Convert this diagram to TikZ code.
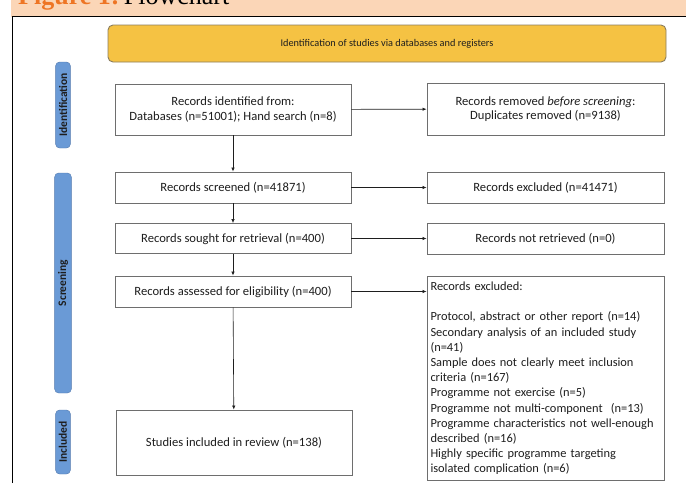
\documentclass[tikz,border=0pt]{standalone}
\usepackage{fontspec}
\setmainfont{Carlito}
\newfontfamily\capfont{Liberation Serif}
\usetikzlibrary{arrows.meta,positioning}
\definecolor{peach}{HTML}{FBD6B7}
\definecolor{figorange}{HTML}{EE7524}
\definecolor{headyellow}{HTML}{F5C243}
\definecolor{headedge}{HTML}{8A7D5E}
\definecolor{phaseblue}{HTML}{6A9AD6}
\definecolor{phaseedge}{HTML}{5279AE}
\definecolor{boxedge}{HTML}{6E6E6E}
\definecolor{ink}{HTML}{1E1E1E}

\begin{document}
\begin{tikzpicture}[x=1pt,y=-1pt,
    font=\fontsize{12.6}{14.5}\selectfont,
    box/.style={draw=boxedge,line width=0.9pt,fill=white,text=ink,minimum width=236pt,align=center,inner sep=2pt},
    phase/.style={draw=phaseedge,fill=phaseblue,rounded corners=4pt,minimum width=28pt,rotate=90,text=ink,font=\bfseries\fontsize{11.5}{13}\selectfont},
    flow/.style={-{Latex[length=4pt,width=3.4pt]},ink,line width=0.6pt}]
  \clip (0,0) rectangle (686,483);
  \useasboundingbox (0,0) rectangle (686,483);

  % caption strip and frame
  \fill[peach] (11,0) rectangle (686,16.5);
  \node[anchor=base west,inner sep=0pt,font=\capfont\fontsize{26}{26}\selectfont] (cap) at (18,4)
    {\textcolor{figorange}{\bfseries Figure 1:}\,Flowchart};
  \draw[line width=1pt,black] (12.5,483) -- (12.5,16.5) -- (686,16.5);

  % header
  \node[draw=headedge,fill=headyellow,rounded corners=5pt,line width=0.9pt,minimum width=558pt,minimum height=37pt,text=ink,
    font=\fontsize{10.3}{12}\selectfont] (head) at (387,43.5) {Identification of studies via databases and registers};

  % phases
  \node[phase,minimum width=86pt] (pid) at (63,105) {Identification};
  \node[phase,minimum width=220pt] (pscr) at (63,283) {Screening};
  \node[phase,minimum width=64pt] (pinc) at (63,442) {Included};

  % main column
  \node[box,minimum height=51pt] (ident) at (233,109.5) {Records identified from:\\Databases (n=51001); Hand search (n=8)};
  \node[box,minimum height=31pt] (screened) at (233,187.5) {Records screened (n=41871)};
  \node[box,minimum height=30pt] (sought) at (233,238.5) {Records sought for retrieval (n=400)};
  \node[box,minimum height=31pt] (assessed) at (233,291.5) {Records assessed for eligibility (n=400)};
  \node[box,minimum height=65pt] (included) at (234,442.5) {Studies included in review (n=138)};

  % side column
  \node[box,minimum width=237pt,minimum height=52pt] (removed) at (545.5,109) {Records removed \textit{before screening}:\\Duplicates removed (n=9138)};
  \node[box,minimum width=237pt,minimum height=31pt] (excl) at (545.5,187.5) {Records excluded (n=41471)};
  \node[box,minimum width=237pt,minimum height=31pt] (notret) at (545.5,238.5) {Records not retrieved (n=0)};
  \node[box,minimum width=237pt,minimum height=204pt,align=left,text width=230pt,anchor=north,inner sep=3pt,
    font=\fontsize{12.4}{15.2}\selectfont] (reasons) at (545.5,276)
    {Records excluded:\\[15.2pt]
     Protocol, abstract or other report (n=14)\\
     Secondary analysis of an included study\\
     (n=41)\\
     Sample does not clearly meet inclusion\\
     criteria (n=167)\\
     Programme not exercise (n=5)\\
     Programme not multi-component\ \ (n=13)\\
     Programme characteristics not well-enough\\
     described (n=16)\\
     Highly specific programme targeting\\
     isolated complication (n=6)};

  % connectors
  \draw[flow] (ident) -- (screened);
  \draw[flow] (screened) -- (sought);
  \draw[flow] (sought) -- (assessed);
  \draw[flow] (assessed) -- (included);
  \draw[flow] (ident) -- (removed);
  \draw[flow] (screened) -- (excl);
  \draw[flow] (sought) -- (notret);
  \draw[flow] (assessed.east) -- (reasons.west |- assessed.east);
\end{tikzpicture}
\end{document}
